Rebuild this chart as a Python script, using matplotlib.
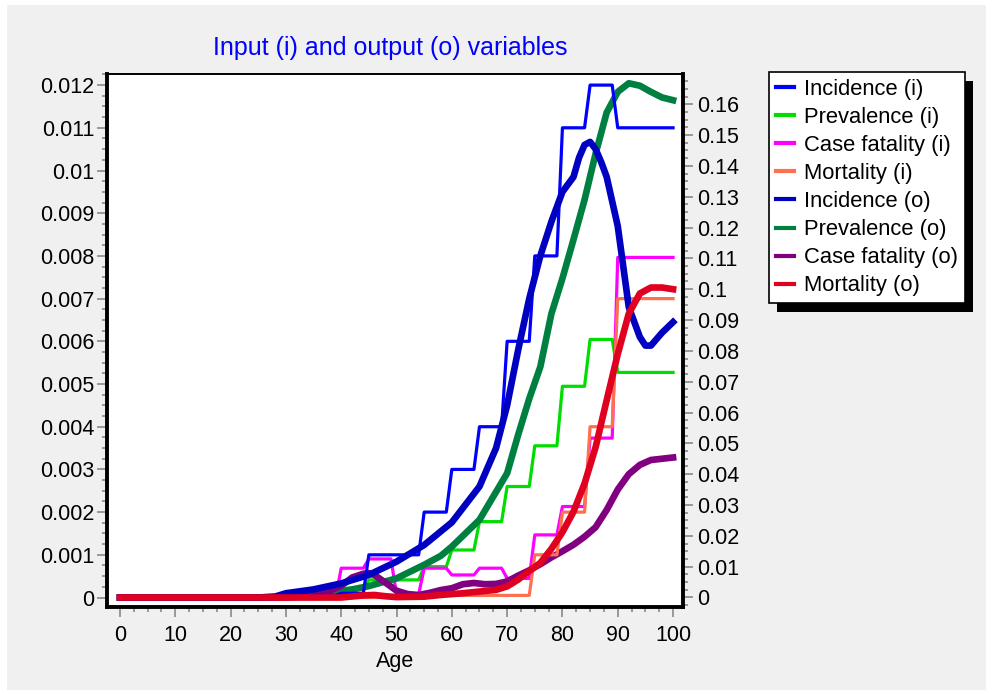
import numpy as np
import matplotlib
matplotlib.use('Agg')
import matplotlib.pyplot as plt
from matplotlib.lines import Line2D
from matplotlib.patches import Rectangle
from matplotlib.ticker import MultipleLocator, FuncFormatter

plt.rcParams['font.family'] = ['Liberation Sans', 'DejaVu Sans']

## input variables: one value per 5-year age group (0-4, 5-9, ..., 95-99, 100)
inc_i_groups = [0, 0, 0, 0, 0, 0, 0.00002, 0.00005, 0.0001, 0.001, 0.001,
                0.002, 0.003, 0.004, 0.006, 0.008, 0.011, 0.012, 0.011, 0.011, 0.011]
prev_i_groups = [0, 0, 0, 0, 0, 0, 0.0005, 0.0015, 0.003, 0.0057, 0.0057,
                 0.010, 0.0154, 0.0246, 0.036, 0.0492, 0.0685, 0.0837, 0.073, 0.073, 0.073]
cf_i_groups = [0, 0, 0, 0, 0, 0, 0, 0, 0.0095, 0.0125, 0.001,
               0.0095, 0.0073, 0.0095, 0.0062, 0.0203, 0.0295, 0.0517, 0.1103, 0.1103, 0.1103]
mort_i_groups = [0, 0, 0, 0, 0, 0, 0, 0, 0, 0, 0.00003,
                 0.00005, 0.00005, 0.00005, 0.00005, 0.001, 0.002, 0.004, 0.007, 0.007, 0.007]

## output variables
inc_o_age = [0, 25, 28, 30, 35, 40, 45, 50, 55, 60, 65, 68, 70, 72, 74, 76, 78, 80,
             82, 83, 84, 85, 86, 87, 88, 90, 92, 94, 95, 96, 98, 100]
inc_o = [0, 0, 0.00002, 0.0001, 0.00019, 0.00033, 0.00053, 0.00084, 0.00123, 0.00176,
         0.0026, 0.0035, 0.0045, 0.0058, 0.0070, 0.0080, 0.0088, 0.0095, 0.00985, 0.0103,
         0.0106, 0.01067, 0.0105, 0.0102, 0.00985, 0.0087, 0.0068, 0.0061, 0.0059, 0.0059,
         0.0062, 0.00645]

prev_o_age = [0, 25, 30, 35, 40, 45, 50, 55, 58, 60, 65, 70, 72, 74, 76, 78, 80, 82,
              84, 86, 88, 90, 92, 94, 96, 98, 100]
prev_o = [0, 0, 0.0003, 0.0011, 0.0019, 0.0037, 0.0062, 0.0106, 0.0135, 0.0165, 0.0252,
          0.0403, 0.0528, 0.0645, 0.0748, 0.092, 0.1035, 0.1161, 0.129, 0.144, 0.1573,
          0.164, 0.1668, 0.166, 0.164, 0.1622, 0.1613]

cf_o_age = [0, 30, 35, 38, 40, 42, 44, 45, 46, 48, 50, 52, 54, 56, 58, 60, 62, 64, 66,
            68, 70, 72, 74, 76, 78, 80, 82, 84, 86, 88, 90, 92, 94, 96, 98, 100]
cf_o = [0, 0, 0.0005, 0.0022, 0.0038, 0.0065, 0.0077, 0.0079, 0.0073, 0.0048, 0.0022,
        0.0011, 0.0008, 0.0015, 0.0024, 0.003, 0.0043, 0.0047, 0.0043, 0.0044, 0.0052,
        0.0071, 0.0088, 0.0108, 0.013, 0.015, 0.0171, 0.0197, 0.0228, 0.0284, 0.035,
        0.040, 0.043, 0.0446, 0.045, 0.0454]

mort_o_age = [0, 40, 44, 46, 48, 50, 55, 58, 62, 65, 68, 70, 72, 74, 76, 78, 80, 82,
              84, 86, 88, 90, 92, 94, 96, 98, 100]
mort_o = [0, 0, 0.00005, 0.00006, 0.00003, 0.00001, 0.00002, 0.00006, 0.0001, 0.00014,
          0.00018, 0.00026, 0.00042, 0.00062, 0.00081, 0.00114, 0.00153, 0.00201, 0.00267,
          0.00352, 0.00462, 0.0057, 0.00665, 0.00712, 0.00726, 0.00726, 0.00722]

ages = np.arange(0, 101)


def expand(groups):
    return np.append(np.repeat(groups[:-1], 5), groups[-1])


fig = plt.figure(figsize=(9.93, 6.95), dpi=100, facecolor='white')
fig.patches.append(Rectangle((7 / 993, 5 / 695), 979 / 993, 685 / 695,
                             transform=fig.transFigure, facecolor='#f0f0f0',
                             edgecolor='none', zorder=-10))

ax = fig.add_axes([107 / 993, 1 - 607 / 695, 576 / 993, 533 / 695])
ax2 = ax.twinx()
ax.set_zorder(2)
ax2.set_zorder(1)
ax.patch.set_visible(False)
ax2.patch.set_visible(True)
ax2.patch.set_facecolor('white')

lw_i = 2.3
lw_o = 4.8

# right axis: prevalence and case fatality
ax2.plot(ages, expand(prev_i_groups), color='#00dd00', lw=lw_i)
ax2.plot(ages, expand(cf_i_groups), color='#ff00ff', lw=lw_i)
ax2.plot(prev_o_age, prev_o, color='#008040', lw=lw_o)
ax2.plot(cf_o_age, cf_o, color='#800080', lw=lw_o)

# left axis: incidence and mortality
ax.plot(ages, expand(inc_i_groups), color='#0000ff', lw=lw_i)
ax.plot(ages, expand(mort_i_groups), color='#ff7050', lw=lw_i)
ax.plot(inc_o_age, inc_o, color='#0000c0', lw=lw_o)
ax.plot(mort_o_age, mort_o, color='#e00020', lw=lw_o)

ax.set_xlim(-2.35, 101.8)
ax.set_ylim(-0.000222, 0.01226)
ax2.set_ylim(-0.00309, 0.1698)

fmt = FuncFormatter(lambda v, p: '0' if abs(v) < 1e-12 else '%g' % round(v, 6))
ax.xaxis.set_major_locator(MultipleLocator(10))
ax.xaxis.set_minor_locator(MultipleLocator(2.5))
ax.yaxis.set_major_locator(MultipleLocator(0.001))
ax.yaxis.set_minor_locator(MultipleLocator(0.00025))
ax.yaxis.set_major_formatter(fmt)
ax2.yaxis.set_major_locator(MultipleLocator(0.01))
ax2.yaxis.set_minor_locator(MultipleLocator(0.0025))
ax2.yaxis.set_major_formatter(fmt)

tick_col = '#808080'
for a in (ax, ax2):
    a.tick_params(which='major', direction='out', length=7, width=1.1, color=tick_col,
                  labelsize=15.5, labelcolor='black')
    a.tick_params(which='minor', direction='out', length=3.5, width=1.1, color=tick_col)
ax.tick_params(axis='y', pad=2)
ax2.tick_params(axis='y', pad=3)
ax.tick_params(axis='x', pad=6)

for s in ('left', 'bottom'):
    ax.spines[s].set_linewidth(2.8)
ax.spines['top'].set_linewidth(1.4)
ax.spines['right'].set_visible(False)
for s in ('left', 'bottom', 'top'):
    ax2.spines[s].set_visible(False)
ax2.spines['right'].set_linewidth(2.8)

fig.text(390 / 993, 1 - 48 / 695, 'Input (i) and output (o) variables', color='#0000ff',
         fontsize=18, ha='center', va='center')
fig.text(395 / 993, 1 - 661 / 695, 'Age', fontsize=15.5, ha='center', va='center')

labels = ['Incidence (i)', 'Prevalence (i)', 'Case fatality (i)', 'Mortality (i)',
          'Incidence (o)', 'Prevalence (o)', 'Case fatality (o)', 'Mortality (o)']
colors = ['#0000ff', '#00dd00', '#ff00ff', '#ff7050',
          '#0000c0', '#008040', '#800080', '#e00020']
handles = [Line2D([], [], color=c, lw=3) for c in colors]
leg = ax.legend(handles, labels, loc='upper left', bbox_to_anchor=(769 / 993, 1 - 72.5 / 695),
                bbox_transform=fig.transFigure, borderaxespad=0, fontsize=15.8,
                frameon=True, fancybox=False, framealpha=1, edgecolor='black',
                borderpad=0.3, labelspacing=0.32, handlelength=0.85, handletextpad=0.45)
leg.get_frame().set_linewidth(1.2)

fig.canvas.draw()
bb = leg.get_window_extent().transformed(fig.transFigure.inverted())
fig.patches.append(Rectangle((bb.x0 + 8 / 993, bb.y0 - 9 / 695), bb.width, bb.height,
                             transform=fig.transFigure, facecolor='black',
                             edgecolor='none', zorder=1.5))

fig.savefig('out.png', dpi=100, facecolor=fig.get_facecolor())
